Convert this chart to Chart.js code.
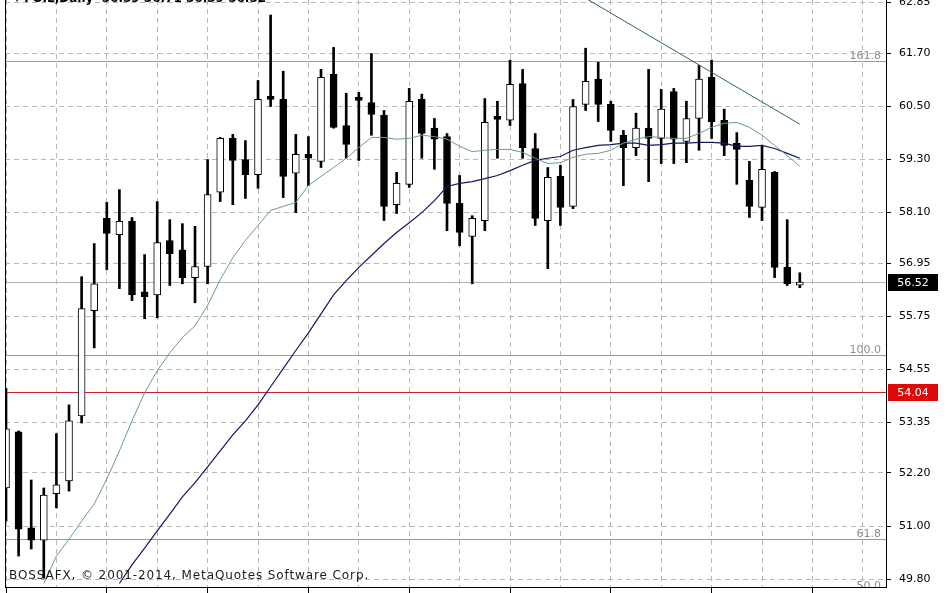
<!DOCTYPE html>
<html>
<head>
<meta charset="utf-8">
<script src="https://cdn.jsdelivr.net/npm/chart.js@4.4.1/dist/chart.umd.min.js"></script>
<style>
html, body { margin: 0; padding: 0; background: #fff; }
#wrap { width: 948px; height: 593px; position: relative; }
</style>
</head>
<body>
<div id="wrap"><canvas id="chart"></canvas></div>
<script>
// FOIL daily candles, oldest first
const opens = [51.86,53.13,50.96,50.68,51.73,52.02,53.49,55.87,57.96,57.59,
  57.89,56.30,56.23,57.46,57.25,56.62,56.87,58.55,59.77,59.29,
  58.95,60.72,60.65,58.98,59.41,59.25,61.22,60.06,60.67,60.58,
  60.29,58.27,58.73,60.65,60.00,59.81,58.30,57.55,57.91,60.24,
  60.18,61.01,59.54,57.91,58.91,58.23,60.54,61.11,60.54,59.84,
  59.56,60.00,59.77,60.83,59.70,60.22,61.15,60.18,59.66,58.82,
  58.21,59.00,56.85,56.45];
const highs = [54.11,53.15,52.04,51.86,53.09,53.74,56.64,57.39,58.32,58.61,
  57.98,57.14,58.34,57.93,57.84,57.78,59.29,59.79,59.86,59.72,
  61.08,62.56,61.29,59.86,59.81,61.33,61.83,60.79,60.81,61.69,
  60.40,59.00,60.90,60.77,60.22,59.88,58.93,58.02,60.67,60.61,
  61.54,61.33,59.88,59.11,59.16,60.65,61.81,61.49,60.61,59.95,
  60.34,61.33,60.88,60.90,60.61,61.42,61.54,60.43,59.90,59.25,
  59.61,59.02,57.93,56.73];
const lows = [51.11,50.32,50.48,49.82,51.41,51.79,53.33,55.03,56.80,56.37,
  56.10,55.69,55.71,56.44,56.48,56.05,56.48,58.34,58.27,58.41,
  58.64,60.49,58.43,58.09,58.70,59.11,60.00,59.32,59.27,59.84,
  57.91,58.07,58.66,59.32,59.07,57.68,57.34,56.48,57.68,59.32,
  60.06,59.32,57.80,56.82,57.80,58.18,60.40,60.15,59.70,58.70,
  59.38,58.79,59.20,59.20,59.22,59.50,59.77,59.38,58.73,57.98,
  57.91,56.62,56.44,56.39];
const closes = [53.20,50.93,50.68,51.70,51.93,53.38,55.92,56.48,57.62,57.89,
  56.23,56.19,57.41,57.16,56.62,56.87,58.50,59.77,59.27,58.95,
  60.65,60.65,58.91,59.41,59.32,61.15,60.02,59.63,60.63,60.31,
  58.23,58.75,60.61,59.88,59.75,58.30,57.64,57.96,60.13,60.20,
  60.99,59.56,57.96,58.89,58.21,60.49,61.06,60.54,59.95,59.56,
  60.00,59.77,60.43,59.75,60.22,61.11,60.15,59.61,59.52,58.23,
  59.07,56.85,56.48,56.52];

// moving averages
const maFast = [null,null,null,49.70,50.32,50.70,51.11,51.50,52.06,52.70,
  53.38,54.01,54.51,54.92,55.26,55.53,55.99,56.57,57.07,57.46,
  57.80,58.14,58.23,58.32,58.70,58.91,59.11,59.32,59.56,59.79,
  59.79,59.75,59.77,59.84,59.81,59.75,59.59,59.47,59.50,59.52,
  59.52,59.45,59.32,59.20,59.22,59.34,59.41,59.43,59.50,59.66,
  59.75,59.81,59.79,59.77,59.77,59.88,60.02,60.11,60.13,60.02,
  59.84,59.61,59.38,59.14];
const maSlow = [null,null,null,null,null,null,null,null,null,49.70,
  50.12,50.50,50.89,51.27,51.66,51.98,52.34,52.70,53.06,53.38,
  53.74,54.15,54.56,54.97,55.37,55.80,56.23,56.55,56.85,57.12,
  57.39,57.64,57.86,58.09,58.36,58.68,58.75,58.79,58.86,58.93,
  59.04,59.16,59.27,59.32,59.36,59.50,59.56,59.61,59.63,59.66,
  59.66,59.61,59.63,59.66,59.66,59.68,59.68,59.66,59.59,59.59,
  59.61,59.54,59.43,59.32];

const trendIdx = [46, 63];
const trendVals = [62.94, 60.09];

const yTicks = [62.85, 61.70, 60.50, 59.30, 58.10, 56.95, 55.75, 54.55, 53.35, 52.20, 51.00, 49.80];
const xGrid = [0,4,8,12,16,20,24,28,32,36,40,44,48,52,56,60,64,68];

const fibLevels = [61.51, 54.87, 50.70, 49.52];
const fibLabels = ['161.8', '100.0', '61.8', '50.0'];
const lastPrice = 56.52;
const alertPrice = 54.04;

const FONT = '"DejaVu Sans", Tahoma, sans-serif';

const bodyData = opens.map((o, i) => ({x: i, y: [o, closes[i]]}));
const wickData = lows.map((l, i) => ({x: i, y: [l, highs[i]]}));
const bodyColors = opens.map((o, i) => closes[i] >= o ? '#ffffff' : '#000000');
const toPoints = arr => arr.map((v, i) => ({x: i, y: v})).filter(p => p.y !== null);

const px = v => Math.round(v) + 0.5;

const levelsPlugin = {
  id: 'levels',
  beforeDatasetsDraw(chart) {
    const {ctx, chartArea: a, scales: {y}} = chart;
    ctx.save();
    ctx.beginPath();
    ctx.rect(a.left, a.top, a.right - a.left, a.bottom - a.top);
    ctx.clip();
    ctx.lineWidth = 1;
    ctx.font = '11px ' + FONT;
    ctx.textAlign = 'right';
    ctx.textBaseline = 'alphabetic';
    fibLevels.forEach((v, i) => {
      const yy = px(y.getPixelForValue(v));
      ctx.strokeStyle = '#9a9a9a';
      ctx.beginPath(); ctx.moveTo(a.left, yy); ctx.lineTo(a.right, yy); ctx.stroke();
      ctx.fillStyle = '#8e8e8e';
      ctx.fillText(fibLabels[i], a.right - 5, yy - 3);
    });
    let yy = px(y.getPixelForValue(lastPrice));
    ctx.strokeStyle = '#b4b4b4';
    ctx.beginPath(); ctx.moveTo(a.left, yy); ctx.lineTo(a.right, yy); ctx.stroke();
    yy = px(y.getPixelForValue(alertPrice));
    ctx.strokeStyle = '#cc1f1f';
    ctx.beginPath(); ctx.moveTo(a.left, yy); ctx.lineTo(a.right, yy); ctx.stroke();
    ctx.restore();
  },
  afterDraw(chart) {
    const {ctx, chartArea: a, scales: {y}} = chart;
    ctx.save();
    // left frame
    ctx.strokeStyle = '#000';
    ctx.lineWidth = 1;
    ctx.beginPath(); ctx.moveTo(a.left + 0.5, 0); ctx.lineTo(a.left + 0.5, a.bottom); ctx.stroke();
    // price tags on the axis
    ctx.font = '11px ' + FONT;
    ctx.textAlign = 'center';
    ctx.textBaseline = 'middle';
    [[lastPrice, '#000000'], [alertPrice, '#dd0a0a']].forEach(([v, c]) => {
      const yy = Math.round(y.getPixelForValue(v));
      ctx.fillStyle = c;
      ctx.fillRect(a.right + 2, yy - 8, 50, 17);
      ctx.fillStyle = '#fff';
      ctx.fillText(v.toFixed(2), a.right + 27, yy + 1);
    });
    // title (cut by the top edge) and copyright
    ctx.textAlign = 'left';
    ctx.textBaseline = 'alphabetic';
    ctx.fillStyle = '#000';
    ctx.font = 'bold 12px ' + FONT;
    ctx.fillText('\u25BE FOIL,Daily  56.59 56.71 56.39 56.52', 14, 2);
    ctx.fillStyle = '#1a1a1a';
    ctx.font = '12px ' + FONT;
    ctx.letterSpacing = '0.9px';
    ctx.fillText('BOSSAFX, \u00A9 2001-2014, MetaQuotes Software Corp.', 9, 579);
    ctx.restore();
  }
};

new Chart(document.getElementById('chart'), {
  data: {
    datasets: [
      {
        type: 'line', label: 'trend', order: 0,
        data: trendIdx.map((x, i) => ({x: x, y: trendVals[i]})),
        borderColor: '#2f6b3c', borderWidth: 1, pointRadius: 0, tension: 0
      },
      {
        type: 'line', label: 'MA fast', order: 0,
        data: toPoints(maFast),
        borderColor: '#6a9c8c', borderWidth: 1, pointRadius: 0, tension: 0
      },
      {
        type: 'line', label: 'MA slow', order: 0,
        data: toPoints(maSlow),
        borderColor: '#17175c', borderWidth: 1.2, pointRadius: 0, tension: 0
      },
      {
        type: 'bar', label: 'body', order: 1, grouped: false,
        data: bodyData,
        backgroundColor: bodyColors,
        borderColor: '#000', borderWidth: 1, borderSkipped: false,
        barThickness: 7, minBarLength: 3
      },
      {
        type: 'bar', label: 'wick', order: 2, grouped: false,
        data: wickData,
        backgroundColor: '#000', borderWidth: 0,
        barThickness: 2
      }
    ]
  },
  options: {
    responsive: true,
    maintainAspectRatio: false,
    animation: false,
    layout: { padding: { left: 5, top: 0, right: 0, bottom: 0 } },
    plugins: { legend: { display: false }, tooltip: { enabled: false } },
    scales: {
      x: {
        type: 'linear', min: -0.08, max: 69.84, offset: false,
        afterBuildTicks: s => { s.ticks = xGrid.map(v => ({value: v})); },
        afterFit: s => { s.height = 6; s.paddingLeft = 0; s.paddingRight = 0; },
        ticks: { display: false },
        grid: {
          offset: false,
          color: '#b8b8b8', lineWidth: 1, tickLength: 6, tickBorderDash: [],
          tickColor: c => (c.tick && c.tick.value % 8 === 0) ? '#000' : 'rgba(0,0,0,0)'
        },
        border: { display: true, color: '#000', width: 1, dash: [5, 4] }
      },
      y: {
        type: 'linear', position: 'right', min: 49.62, max: 62.90,
        afterBuildTicks: s => { s.ticks = yTicks.map(v => ({value: v})); },
        afterFit: s => { s.width = 62; s.paddingTop = 0; s.paddingBottom = 0; },
        ticks: {
          color: '#000', padding: 8, font: { family: FONT, size: 11 },
          callback: v => Number(v).toFixed(2)
        },
        grid: { color: '#b8b8b8', lineWidth: 1, tickLength: 5, tickColor: '#000', tickBorderDash: [] },
        border: { display: true, color: '#000', width: 1, dash: [5, 4] }
      }
    }
  },
  plugins: [levelsPlugin]
});
</script>
</body>
</html>
